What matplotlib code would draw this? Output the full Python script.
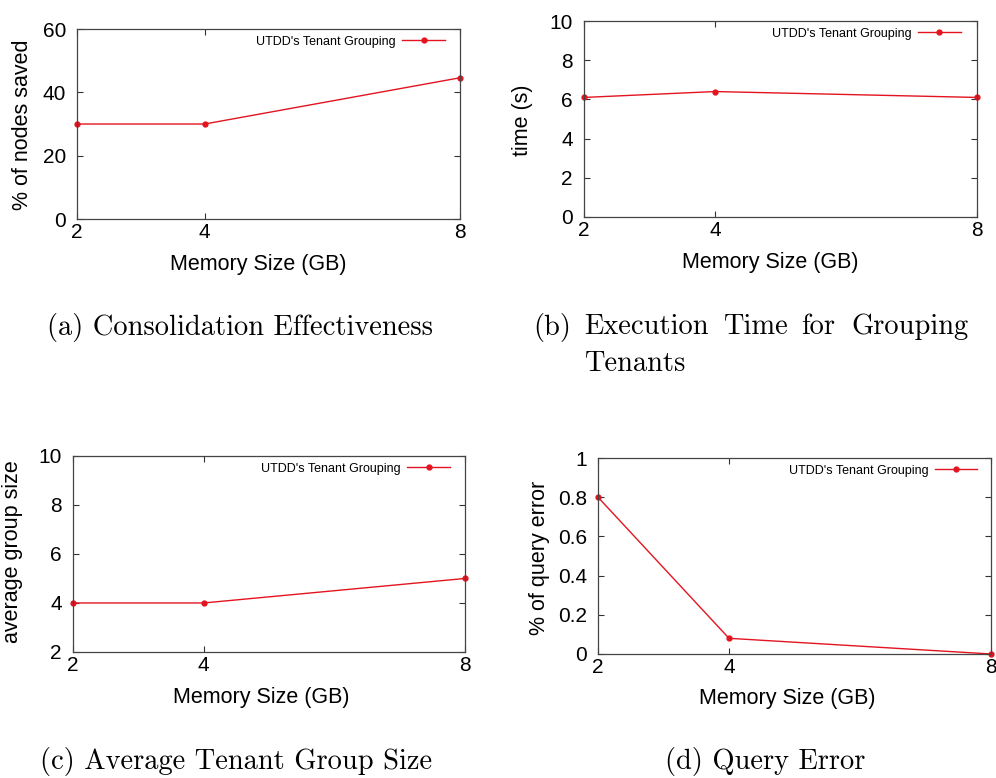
import matplotlib
matplotlib.use('Agg')
import matplotlib.pyplot as plt
from matplotlib.ticker import FormatStrFormatter

plt.rcParams['font.family'] = ['Liberation Sans', 'DejaVu Sans']

mem_sizes = [2, 4, 8]
series_name = "UTDD's Tenant Grouping"

nodes_saved = [30, 30, 44.6]
exec_time = [6.1, 6.4, 6.1]
group_size = [4, 4, 5]
query_error = [0.8, 0.08, 0]

ylabels = ['% of nodes saved', 'time (s)', 'average group size', '% of query error']
yranges = [(0, 60, [0, 20, 40, 60]), (0, 10, [0, 2, 4, 6, 8, 10]),
           (2, 10, [2, 4, 6, 8, 10]), (0, 1, [0, 0.2, 0.4, 0.6, 0.8, 1])]
cap_a = '(a) Consolidation Effectiveness'
cap_b_words = ['(b)', 'Execution', 'Time', 'for', 'Grouping']
cap_b_line2 = 'Tenants'
cap_c = '(c) Average Tenant Group Size'
cap_d = '(d) Query Error'

fig = plt.figure(figsize=(9.96, 7.78), dpi=100)

# axes boxes in figure fractions
boxes = [[0.0773, 0.7185, 0.3845, 0.2442],
         [0.5863, 0.7211, 0.3946, 0.2519],
         [0.0733, 0.1620, 0.3936, 0.2519],
         [0.6004, 0.1594, 0.3946, 0.2519]]
ylab_pos = [(-0.115, 0.495), (-0.130, 0.495), (-0.128, 0.51), (-0.122, 0.49)]
xlab_pos = [(0.473, -0.184), (0.473, -0.179), (0.48, -0.179), (0.481, -0.173)]
leg_anchor = [(0.993, 1.03), (0.99, 1.03), (0.993, 1.03), (0.997, 1.03)]

all_data = [nodes_saved, exec_time, group_size, query_error]
red = '#e3141f'

for i, vals in enumerate(all_data):
    ax = fig.add_axes(boxes[i])
    ax.plot(mem_sizes, vals, color=red, lw=1, marker='o', ms=3.5,
            label=series_name, clip_on=False)
    lo, hi, ticks = yranges[i]
    ax.set_xlim(2, 8)
    ax.set_ylim(lo, hi)
    ax.set_xticks(mem_sizes)
    ax.set_yticks(ticks)
    ax.yaxis.set_major_formatter(FormatStrFormatter('%g'))
    ax.tick_params(direction='in', top=True, right=True, length=4,
                   width=0.8, color='#333333', labelsize=15)
    ax.tick_params(axis='y', pad=8)
    ax.tick_params(axis='x', pad=3)
    for sp in ax.spines.values():
        sp.set_color('#444444')
        sp.set_linewidth(0.9)
    ax.set_ylabel(ylabels[i], fontsize=15.5)
    ax.set_xlabel('Memory Size (GB)', fontsize=15.5)
    ax.yaxis.set_label_coords(*ylab_pos[i])
    ax.xaxis.set_label_coords(*xlab_pos[i])
    ax.legend(loc='upper right', bbox_to_anchor=leg_anchor[i], frameon=False,
              markerfirst=False, fontsize=9, handlelength=3.4,
              borderaxespad=0.6, handletextpad=0.5)

# captions (serif, like the LaTeX subfigure captions)
cap_kw = dict(family='cmr10', fontsize=20.5, va='center', ha='left')
fig.text(47 / 996, 1 - 327 / 778, cap_a, **cap_kw)
# caption (b) is justified in the reference, so place word by word
for word, px in zip(cap_b_words, [533, 584, 723, 801, 851]):
    fig.text(px / 996, 1 - 327 / 778, word, **cap_kw)
fig.text(584 / 996, 1 - 364 / 778, cap_b_line2, **cap_kw)
fig.text(40 / 996, 1 - 762 / 778, cap_c, **cap_kw)
fig.text(665 / 996, 1 - 762 / 778, cap_d, **cap_kw)

fig.savefig('out.png', dpi=100)
